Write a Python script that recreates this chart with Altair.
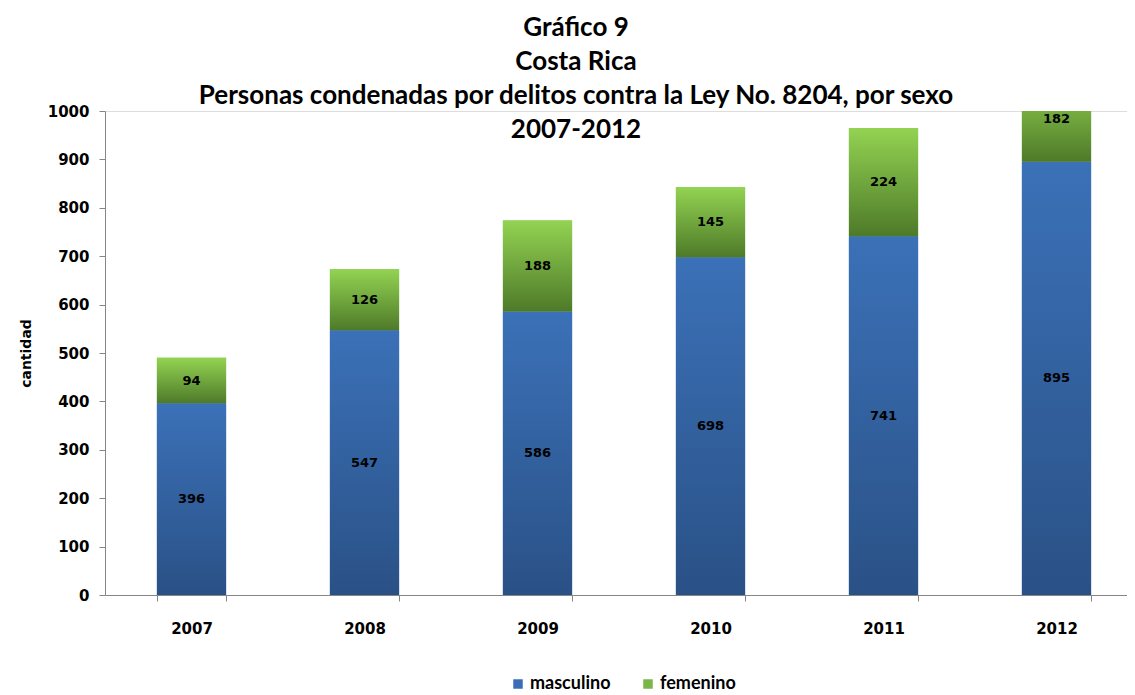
import altair as alt
import pandas as pd

years = ["2007", "2008", "2009", "2010", "2011", "2012"]
masculino = [396, 547, 586, 698, 741, 895]
femenino = [94, 126, 188, 145, 224, 182]
sexes = ["masculino", "femenino"]
y_ticks = [0, 100, 200, 300, 400, 500, 600, 700, 800, 900, 1000]
YMAX = 1000
title_lines = [
    "Gráfico 9",
    "Costa Rica",
    "Personas condenadas por delitos contra la Ley No. 8204, por sexo",
    "2007-2012",
]

df = pd.DataFrame({"year": years, "masculino": masculino, "femenino": femenino})

BLUE = "#3a6db5"
GREEN = "#7ab648"
blue_grad = alt.LinearGradient(
    gradient="linear", x1=0, y1=0, x2=0, y2=1,
    stops=[alt.GradientStop(offset=0, color="#3b71b8"),
           alt.GradientStop(offset=1, color="#2a5186")],
)
green_grad = alt.LinearGradient(
    gradient="linear", x1=0, y1=0, x2=0, y2=1,
    stops=[alt.GradientStop(offset=0, color="#93d352"),
           alt.GradientStop(offset=1, color="#4e7a29")],
)

AXIS_GRAY = "#868686"
NUM_FONT = "DejaVu Sans"

xenc = alt.X(
    "year:N", title=None,
    scale=alt.Scale(range=[0, 1038], paddingInner=0.6, paddingOuter=0.3),
    axis=alt.Axis(labelAngle=0, tickBand="extent", labelFont=NUM_FONT,
                  labelFontWeight="bold", labelFontSize=15, labelColor="black",
                  labelPadding=20, domainColor=AXIS_GRAY, tickColor=AXIS_GRAY,
                  tickSize=6),
)
yscale = alt.Scale(domain=[0, YMAX], nice=False)
yaxis = alt.Axis(values=y_ticks, format="d", grid=False, labelFont=NUM_FONT,
                 labelFontWeight="bold", labelFontSize=15, labelColor="black",
                 labelPadding=10, domainColor=AXIS_GRAY, tickColor=AXIS_GRAY,
                 tickSize=6, titleFont=NUM_FONT, titleFontWeight="bold",
                 titleFontSize=14, titleColor="black", titlePadding=14)


def yenc(field):
    return alt.Y(field, scale=yscale, axis=yaxis, title="cantidad")


base = alt.Chart(df).transform_calculate(
    total="datum.masculino + datum.femenino",
    mid_m="datum.masculino / 2",
    mid_f="datum.masculino + datum.femenino / 2",
)

legend_layer = base.transform_fold(sexes, as_=["sexo", "valor"]).transform_calculate(
    lo="datum.sexo == 'masculino' ? 0 : datum.masculino",
    hi="datum.sexo == 'masculino' ? datum.masculino : datum.total",
).mark_bar(clip=True).encode(
    x=xenc,
    y=yenc("lo:Q"),
    y2="hi:Q",
    color=alt.Color("sexo:N", scale=alt.Scale(domain=sexes, range=[BLUE, GREEN]),
                    legend=alt.Legend(title=None, orient="none", legendX=404,
                                      legendY=564, direction="horizontal",
                                      symbolType="square", symbolSize=90,
                                      symbolStrokeWidth=0, labelFont="Lato",
                                      labelFontSize=18, labelFontWeight="bold",
                                      labelColor="black", labelOffset=3,
                                      columnPadding=28)),
)

blue_layer = base.mark_bar(clip=True, fill=blue_grad).encode(
    x=xenc, y=yenc("masculino:Q"))
green_layer = base.mark_bar(clip=True, fill=green_grad).encode(
    x=xenc, y=yenc("masculino:Q"), y2="total:Q")

txt = dict(font=NUM_FONT, fontWeight="bold", fontSize=13, color="black")
blue_text = base.mark_text(baseline="middle", **txt).encode(
    x=xenc, y=yenc("mid_m:Q"), text="masculino:Q")
green_text = base.transform_filter(f"datum.total <= {YMAX}").mark_text(
    baseline="middle", **txt).encode(x=xenc, y=yenc("mid_f:Q"), text="femenino:Q")
green_text_top = base.transform_filter(f"datum.total > {YMAX}").transform_calculate(
    ytop=f"{YMAX}").mark_text(baseline="top", dy=2, **txt).encode(
    x=xenc, y=yenc("ytop:Q"), text="femenino:Q")

chart = alt.layer(
    legend_layer, blue_layer, green_layer, blue_text, green_text, green_text_top
).properties(
    width=1022, height=484,
    title=alt.TitleParams(text=title_lines, font="Lato", fontSize=26,
                          fontWeight="bold", color="black", lineHeight=34,
                          anchor="middle", dx=-40, dy=43),
    autosize=alt.AutoSizeParams(type="none"),
    padding={"left": 97, "top": 103, "right": 0, "bottom": 100},
).configure_view(stroke=None).configure(background="white")

chart.save("out.html", embed_options={"renderer": "svg", "actions": False})
